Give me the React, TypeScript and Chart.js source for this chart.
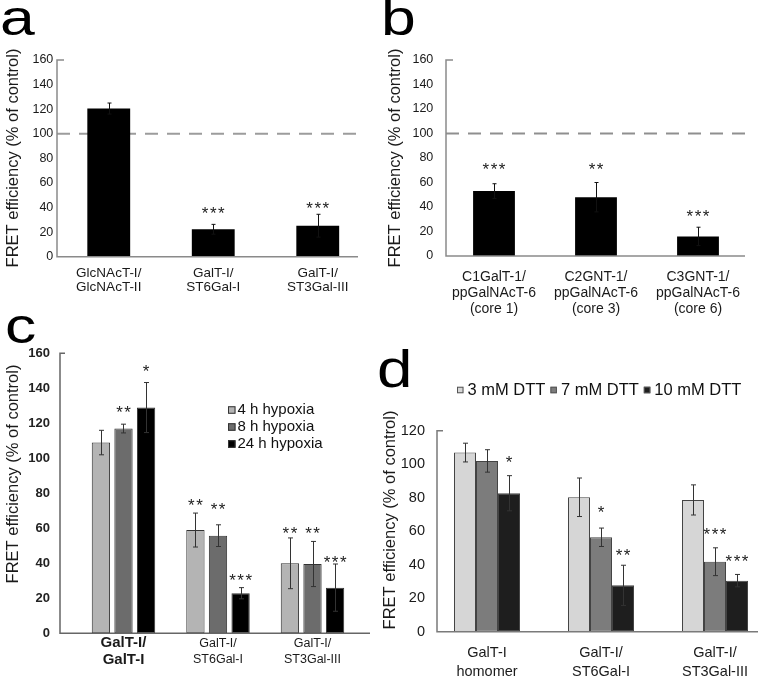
import React, { useEffect, useRef } from "react";
import { Chart, registerables } from "chart.js";
Chart.register(...registerables);

const FONT = "'Liberation Sans', Arial, Helvetica, sans-serif";
const CW = 800;
const CH = 682;
const Y_TITLE = "FRET efficiency (% of control)";

// ---------- Panel a ----------
const aLabels = [["GlcNAcT-I/", "GlcNAcT-II"], ["GalT-I/", "ST6Gal-I"], ["GalT-I/", "ST3Gal-III"]];
const aValues = [120.5, 22.3, 25.2];
const aErrors = [4.5, 4, 9.3];
const aStars = ["", "***", "***"];
const aStarY = [0, 38.8, 42.6];

// ---------- Panel b ----------
const bLabels = [
  ["C1GalT-1/", "ppGalNAcT-6", "(core 1)"],
  ["C2GNT-1/", "ppGalNAcT-6", "(core 3)"],
  ["C3GNT-1/", "ppGalNAcT-6", "(core 6)"],
];
const bValues = [53, 48, 16];
const bErrors = [6, 12, 7.5];
const bStars = ["***", "**", "***"];
const bStarY = [74.3, 74.3, 36.2];

// ---------- Panel c ----------
const cLabels = [["GalT-I/", "GalT-I"], ["GalT-I/", "ST6Gal-I"], ["GalT-I/", "ST3Gal-III"]];
const cSeries = ["4 h hypoxia", "8 h hypoxia", "24 h hypoxia"];
const c4h = [109, 59, 40];
const c4hErr = [7, 9.7, 14.5];
const c4hStars = ["", "**", "**"];
const c4hStarY = [0, 75.8, 59.6];
const c8h = [117, 55.8, 39.6];
const c8hErr = [2.5, 6.2, 12.9];
const c8hStars = ["**", "**", "**"];
const c8hStarY = [128.6, 73.3, 59.6];
const c24h = [129, 22.9, 26.1];
const c24hErr = [14.3, 3.2, 13.5];
const c24hStars = ["*", "***", "***"];
const c24hStarY = [152.3, 32.9, 43.2];

// ---------- Panel d ----------
const dLabels = [["GalT-I", "homomer"], ["GalT-I/", "ST6Gal-I"], ["GalT-I/", "ST3Gal-III"]];
const dSeries = ["3 mM DTT", "7 mM DTT", "10 mM DTT"];
const d3 = [107, 80.3, 78.7];
const d3Err = [5.6, 11.5, 9];
const d7 = [102, 56.4, 41.8];
const d7Err = [6.7, 5.5, 8.3];
const d7Stars = ["", "*", "***"];
const d7StarY = [0, 73.7, 60.8];
const d10 = [82.7, 27.7, 30.5];
const d10Err = [10.5, 12, 3.7];
const d10Stars = ["*", "**", "***"];
const d10StarY = [104, 48.4, 44.8];

function makeDecor(cfg: any) {
  return {
    id: "decor_" + cfg.key,
    beforeDatasetsDraw(chart: any) {
      const { ctx } = chart;
      const y = chart.scales.y;
      if (cfg.ref) {
        const py = y.getPixelForValue(cfg.ref.value);
        ctx.save();
        ctx.strokeStyle = cfg.ref.color;
        ctx.lineWidth = cfg.ref.width;
        ctx.setLineDash(cfg.ref.dash);
        ctx.beginPath();
        ctx.moveTo(cfg.axis.x, py);
        ctx.lineTo(cfg.axis.xEnd, py);
        ctx.stroke();
        ctx.restore();
      }
    },
    afterDatasetsDraw(chart: any) {
      const { ctx } = chart;
      const y = chart.scales.y;
      chart.data.datasets.forEach((ds: any, i: number) => {
        const meta = chart.getDatasetMeta(i);
        meta.data.forEach((bar: any, j: number) => {
          const v = ds.data[j];
          const e = ds.errors ? ds.errors[j] : 0;
          if (e) {
            const x = Math.round(bar.x) + 0.5;
            const top = y.getPixelForValue(v + e);
            const bot = y.getPixelForValue(v - e);
            ctx.save();
            ctx.strokeStyle = cfg.err.color;
            ctx.lineWidth = cfg.err.width;
            ctx.beginPath();
            ctx.moveTo(x, top);
            ctx.lineTo(x, bot);
            ctx.moveTo(x - cfg.err.cap, top);
            ctx.lineTo(x + cfg.err.cap, top);
            ctx.moveTo(x - cfg.err.cap, bot);
            ctx.lineTo(x + cfg.err.cap, bot);
            ctx.stroke();
            ctx.restore();
          }
          const s = ds.stars ? ds.stars[j] : "";
          if (s) {
            ctx.save();
            ctx.font = `${cfg.star.size}px ${FONT}`;
            (ctx as any).letterSpacing = cfg.star.spacing + "px";
            ctx.textAlign = "center";
            ctx.textBaseline = "alphabetic";
            ctx.fillStyle = cfg.star.color;
            ctx.fillText(s, bar.x + cfg.star.spacing / 2, y.getPixelForValue(ds.starY[j]) + cfg.star.dy);
            ctx.restore();
          }
        });
      });
    },
    afterDraw(chart: any) {
      const { ctx } = chart;
      const y = chart.scales.y;
      const a = cfg.axis;
      const yTop = y.getPixelForValue(y.max);
      const yBot = y.getPixelForValue(0);
      ctx.save();
      ctx.strokeStyle = a.color;
      ctx.lineWidth = a.width;
      ctx.beginPath();
      ctx.moveTo(a.x + a.stub, yTop);
      ctx.lineTo(a.x, yTop);
      ctx.lineTo(a.x, yBot);
      ctx.lineTo(a.xEnd, yBot);
      ctx.stroke();
      ctx.restore();

      // y title
      const t = cfg.title;
      ctx.save();
      ctx.translate(t.x, t.y);
      ctx.rotate(-Math.PI / 2);
      ctx.font = `${t.size}px ${FONT}`;
      ctx.fillStyle = t.color;
      ctx.textAlign = "center";
      ctx.textBaseline = "middle";
      ctx.fillText(Y_TITLE, 0, 0);
      ctx.restore();

      // panel letter
      const L = cfg.letter;
      ctx.save();
      ctx.translate(L.x, L.y);
      ctx.scale(1.25, 1);
      ctx.font = `${L.size}px ${FONT}`;
      ctx.fillStyle = "#000";
      ctx.textAlign = "left";
      ctx.textBaseline = "alphabetic";
      ctx.fillText(L.text, 0, 0);
      ctx.restore();

      // legend
      const lg = cfg.legend;
      if (lg) {
        ctx.save();
        ctx.font = `${lg.size}px ${FONT}`;
        ctx.textBaseline = "middle";
        ctx.textAlign = "left";
        let cx = lg.x;
        chart.data.datasets.forEach((ds: any, i: number) => {
          const m = lg.marker;
          const yc = lg.vertical ? lg.y + i * lg.lineH : lg.y;
          const mx = lg.vertical ? lg.x : cx;
          ctx.fillStyle = ds.backgroundColor;
          ctx.fillRect(mx, yc - m / 2, m, m);
          ctx.strokeStyle = lg.markerBorder;
          ctx.lineWidth = 1;
          ctx.strokeRect(mx + 0.5, yc - m / 2 + 0.5, m - 1, m - 1);
          ctx.fillStyle = lg.color;
          const tx = mx + m + lg.gap;
          ctx.fillText(ds.label, tx, yc);
          cx = tx + ctx.measureText(ds.label).width + lg.itemGap;
        });
        ctx.restore();
      }
    },
  };
}

function buildOptions(p: any) {
  const g = p.geo;
  return {
    responsive: false,
    maintainAspectRatio: false,
    animation: false,
    devicePixelRatio: 1,
    events: [],
    layout: {
      padding: {
        left: g.left - g.yW,
        right: CW - g.right,
        top: g.top,
        bottom: CH - g.bottom - g.xH,
      },
    },
    plugins: { legend: { display: false }, tooltip: { enabled: false }, title: { display: false } },
    scales: {
      x: {
        type: "category",
        offset: true,
        grid: { display: false, drawTicks: false },
        border: { display: false },
        ticks: {
          autoSkip: false,
          maxRotation: 0,
          minRotation: 0,
          color: p.xColor,
          font: p.xFont,
          padding: p.xPad,
        },
        afterFit: (s: any) => {
          s.height = g.xH;
        },
      },
      y: {
        min: 0,
        max: p.yMax,
        grid: { display: false, drawTicks: false },
        border: { display: false },
        ticks: { stepSize: 20, color: p.yColor, font: p.yFont, padding: p.yPad },
        afterFit: (s: any) => {
          s.width = g.yW;
        },
      },
    },
  };
}

const STAR = { size: 17, color: "#222", dy: 10, spacing: 1.5 };

function configA() {
  return {
    type: "bar",
    data: {
      labels: aLabels,
      datasets: [
        {
          label: "a",
          data: aValues,
          errors: aErrors,
          stars: aStars,
          starY: aStarY,
          backgroundColor: "#000",
          borderWidth: 0,
          barPercentage: 0.41,
          categoryPercentage: 1,
        },
      ],
    },
    options: buildOptions({
      geo: { left: 56.5, right: 370, top: 60, bottom: 256.7, yW: 56.5, xH: 60 },
      yMax: 160,
      yFont: { family: FONT, size: 12.5 },
      yColor: "#1a1a1a",
      yPad: 3.2,
      xFont: { family: FONT, size: 13.5, lineHeight: "14px" },
      xColor: "#1a1a1a",
      xPad: 9.3,
    }),
    plugins: [
      makeDecor({
        key: "a",
        axis: { x: 57, xEnd: 358, color: "#8a8a8a", width: 1.5, stub: 7 },
        ref: { value: 100, color: "#9c9c9c", width: 2, dash: [13, 9] },
        title: { x: 13, y: 158, size: 16.5, color: "#1a1a1a" },
        letter: { text: "a", x: 0, y: 35, size: 50 },
        err: { color: "#111", width: 1, cap: 2 },
        star: STAR,
      }),
    ],
  };
}

function configB() {
  return {
    type: "bar",
    data: {
      labels: bLabels,
      datasets: [
        {
          label: "b",
          data: bValues,
          errors: bErrors,
          stars: bStars,
          starY: bStarY,
          backgroundColor: "#000",
          borderWidth: 0,
          barPercentage: 0.41,
          categoryPercentage: 1,
        },
      ],
    },
    options: buildOptions({
      geo: { left: 443, right: 749, top: 60, bottom: 256, yW: 50, xH: 60 },
      yMax: 160,
      yFont: { family: FONT, size: 12.5 },
      yColor: "#1a1a1a",
      yPad: 9.7,
      xFont: { family: FONT, size: 14, lineHeight: "16px" },
      xColor: "#1a1a1a",
      xPad: 12.7,
    }),
    plugins: [
      makeDecor({
        key: "b",
        axis: { x: 446, xEnd: 745, color: "#8a8a8a", width: 1.5, stub: 7 },
        ref: { value: 100, color: "#8f8f8f", width: 2, dash: [13, 9] },
        title: { x: 395, y: 158, size: 16.5, color: "#1a1a1a" },
        letter: { text: "b", x: 381, y: 35, size: 50 },
        err: { color: "#111", width: 1, cap: 2 },
        star: STAR,
      }),
    ],
  };
}

function configC() {
  const common = { borderColor: "#333", borderWidth: 1, borderSkipped: false, barPercentage: 0.81, categoryPercentage: 0.717 };
  return {
    type: "bar",
    data: {
      labels: cLabels,
      datasets: [
        { label: cSeries[0], data: c4h, errors: c4hErr, stars: c4hStars, starY: c4hStarY, backgroundColor: "#b4b4b4", ...common },
        { label: cSeries[1], data: c8h, errors: c8hErr, stars: c8hStars, starY: c8hStarY, backgroundColor: "#6c6c6c", ...common },
        { label: cSeries[2], data: c24h, errors: c24hErr, stars: c24hStars, starY: c24hStarY, backgroundColor: "#000", ...common },
      ],
    },
    options: buildOptions({
      geo: { left: 76.25, right: 359.75, top: 353.3, bottom: 633.3, yW: 76.25, xH: 45 },
      yMax: 160,
      yFont: { family: FONT, size: 13, weight: "bold" },
      yColor: "#222",
      yPad: 26.25,
      xFont: (ctx: any) =>
        ctx.index === 0
          ? { family: FONT, size: 15, weight: "bold", lineHeight: "16.7px" }
          : { family: FONT, size: 12.5, lineHeight: "16.7px" },
      xColor: "#1a1a1a",
      xPad: 1.65,
    }),
    plugins: [
      makeDecor({
        key: "c",
        axis: { x: 60, xEnd: 370, color: "#666", width: 1.5, stub: 5 },
        ref: null,
        title: { x: 13, y: 474, size: 16.5, color: "#1a1a1a" },
        letter: { text: "c", x: 5, y: 343, size: 50 },
        err: { color: "#333", width: 1, cap: 2.5 },
        star: STAR,
        legend: { vertical: true, x: 228, y: 410, lineH: 17, marker: 7.5, gap: 2, size: 15, color: "#111", markerBorder: "#333", itemGap: 0 },
      }),
    ],
  };
}

function configD() {
  const common = { borderColor: "#444", borderWidth: 1, borderSkipped: false, barPercentage: 1, categoryPercentage: 0.579 };
  return {
    type: "bar",
    data: {
      labels: dLabels,
      datasets: [
        { label: dSeries[0], data: d3, errors: d3Err, backgroundColor: "#d6d6d6", ...common },
        { label: dSeries[1], data: d7, errors: d7Err, stars: d7Stars, starY: d7StarY, backgroundColor: "#7c7c7c", ...common },
        { label: dSeries[2], data: d10, errors: d10Err, stars: d10Stars, starY: d10StarY, backgroundColor: "#1e1e1e", ...common },
      ],
    },
    options: buildOptions({
      geo: { left: 430, right: 772, top: 430.8, bottom: 631.7, yW: 50, xH: 48 },
      yMax: 120,
      yFont: { family: FONT, size: 14.5 },
      yColor: "#1a1a1a",
      yPad: 5,
      xFont: { family: FONT, size: 14.5, lineHeight: "18.4px" },
      xColor: "#1a1a1a",
      xPad: 12.4,
    }),
    plugins: [
      makeDecor({
        key: "d",
        axis: { x: 437, xEnd: 758, color: "#7a7a7a", width: 1.5, stub: 6 },
        ref: null,
        title: { x: 390, y: 520, size: 16.5, color: "#1a1a1a" },
        letter: { text: "d", x: 377, y: 387, size: 51 },
        err: { color: "#333", width: 1, cap: 2.5 },
        star: STAR,
        legend: { vertical: false, x: 457, y: 390, marker: 6.5, gap: 4, size: 16.5, color: "#111", markerBorder: "#555", itemGap: 5 },
      }),
    ],
  };
}

function ChartLayer({ build }: { build: () => any }) {
  const ref = useRef<HTMLCanvasElement | null>(null);
  useEffect(() => {
    if (!ref.current) return;
    const chart = new Chart(ref.current, build() as any);
    return () => chart.destroy();
  }, [build]);
  return (
    <canvas
      ref={ref}
      width={CW}
      height={CH}
      style={{ position: "absolute", left: 0, top: 0, width: CW, height: CH }}
    />
  );
}

export default function App() {
  return (
    <div
      style={{
        position: "absolute",
        left: 0,
        top: 0,
        width: 761,
        height: 682,
        overflow: "hidden",
        background: "#fff",
      }}
    >
      <ChartLayer build={configA} />
      <ChartLayer build={configB} />
      <ChartLayer build={configC} />
      <ChartLayer build={configD} />
    </div>
  );
}
